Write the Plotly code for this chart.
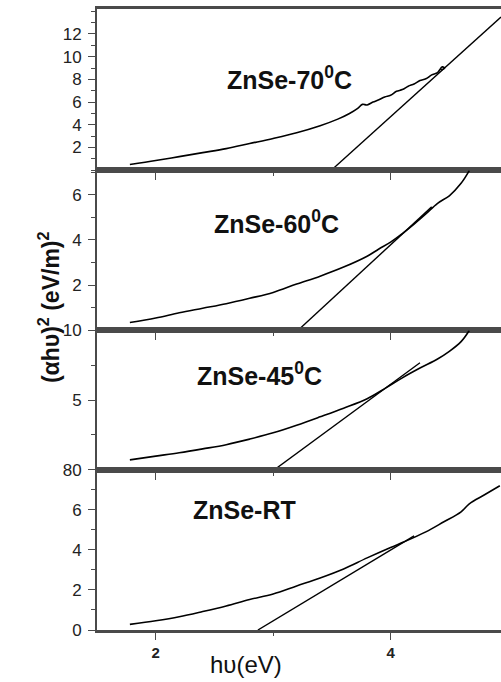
import plotly.graph_objects as go
from plotly.subplots import make_subplots

# ---- data ----
x70 = [1.78, 2.0, 2.2, 2.4, 2.6, 2.8, 3.0, 3.2, 3.4, 3.55, 3.65, 3.72, 3.76, 3.8, 3.85, 3.9, 3.95, 4.0, 4.05, 4.1, 4.15, 4.2, 4.25, 4.3, 4.35, 4.4, 4.44, 4.46, 4.43]
y70 = [0.5, 0.85, 1.2, 1.55, 1.9, 2.35, 2.8, 3.3, 3.92, 4.5, 5.0, 5.45, 5.8, 5.75, 6.0, 6.2, 6.45, 6.6, 6.95, 7.1, 7.4, 7.6, 7.9, 8.05, 8.4, 8.6, 9.1, 9.0, 8.8]
tan70_x = [3.495, 4.94]
tan70_y = [0.0, 13.5]

x60 = [1.78, 2.0, 2.2, 2.4, 2.6, 2.8, 3.0, 3.2, 3.4, 3.6, 3.8, 3.9, 4.0, 4.1, 4.2, 4.3, 4.4, 4.5, 4.6, 4.67]
y60 = [0.35, 0.55, 0.78, 0.98, 1.18, 1.42, 1.68, 2.05, 2.4, 2.8, 3.28, 3.6, 3.9, 4.28, 4.7, 5.15, 5.62, 5.95, 6.5, 7.06]
tan60_x = [3.21, 4.35]
tan60_y = [0.0, 5.46]

x45 = [1.78, 2.0, 2.2, 2.4, 2.6, 2.8, 3.0, 3.2, 3.4, 3.6, 3.8, 3.96, 4.1, 4.25, 4.4, 4.5, 4.6, 4.67]
y45 = [0.71, 0.98, 1.22, 1.5, 1.8, 2.2, 2.65, 3.2, 3.8, 4.42, 5.1, 5.88, 6.6, 7.3, 7.95, 8.5, 9.2, 10.0]
tan45_x = [3.01, 4.25]
tan45_y = [0.0, 7.68]

xRT = [1.78, 2.0, 2.2, 2.4, 2.6, 2.8, 3.0, 3.2, 3.4, 3.6, 3.8, 4.0, 4.11, 4.3, 4.45, 4.6, 4.67, 4.8, 4.93]
yRT = [0.28, 0.46, 0.66, 0.92, 1.2, 1.52, 1.8, 2.2, 2.6, 3.05, 3.6, 4.12, 4.39, 4.9, 5.39, 5.9, 6.3, 6.75, 7.2]
tanRT_x = [2.87, 4.2]
tanRT_y = [0.0, 4.7]

labels = ["ZnSe-70<sup>0</sup>C", "ZnSe-60<sup>0</sup>C", "ZnSe-45<sup>0</sup>C", "ZnSe-RT"]
label_pos = [(3.14, 8.1), (3.03, 4.8), (2.885, 6.9), (2.76, 6.0)]

y_ranges = [[0, 14.2], [0, 7.08], [0, 10], [0, 8]]
y_tickvals = [[2, 4, 6, 8, 10, 12], [2, 4, 6], [0, 5, 10], [0, 2, 4, 6, 8]]
y_ticktext = [["2", "4", "6", "8", "10", "12"], ["2", "4", "6"], ["0", "5", "10"],
              ["0", "2", "4", "6", "8\u2007"]]
y_minor = [1, 1, 2.5, 1]

x_range = [1.5, 4.94]
x_tickvals = [2, 4]
x_ticktext = ["<b>2</b>", "<b>4</b>"]

# ---- figure ----
fig = make_subplots(rows=4, cols=1, shared_xaxes=True, vertical_spacing=0,
                    row_heights=[162, 161, 140, 161])

series = [(x70, y70, tan70_x, tan70_y), (x60, y60, tan60_x, tan60_y),
          (x45, y45, tan45_x, tan45_y), (xRT, yRT, tanRT_x, tanRT_y)]

axis_col = "#4a4a4a"
for i, (xs, ys, tx, ty) in enumerate(series):
    r = i + 1
    fig.add_trace(go.Scatter(x=xs, y=ys, mode="lines", line=dict(color="black", width=1.6),
                             showlegend=False, line_shape="spline"), row=r, col=1)
    fig.add_trace(go.Scatter(x=tx, y=ty, mode="lines", line=dict(color="black", width=1.4),
                             showlegend=False), row=r, col=1)
    fig.update_yaxes(range=y_ranges[i], tickvals=y_tickvals[i], ticktext=y_ticktext[i],
                     ticks="outside", ticklen=7, tickwidth=1.3, tickcolor=axis_col,
                     ticklabelstandoff=3,
                     minor=dict(dtick=y_minor[i], ticks="outside", ticklen=4, tickcolor=axis_col, tickwidth=1.2,
                                tick0=0),
                     showline=True, linecolor=axis_col, linewidth=2, showgrid=False, zeroline=False,
                     tickfont=dict(family="Liberation Sans, Arial", size=17, color="#222"),
                     row=r, col=1)
    fig.update_xaxes(range=x_range, tickvals=x_tickvals, ticktext=x_ticktext,
                     ticks="outside", ticklen=7, tickwidth=1.3, tickcolor=axis_col,
                     minor=dict(dtick=1, tick0=0, ticks="outside", ticklen=3, tickcolor=axis_col, tickwidth=1.2),
                     showline=True, mirror=True, linecolor=axis_col, linewidth=2.5,
                     showgrid=False, zeroline=False,
                     showticklabels=(r == 4),
                     tickfont=dict(family="Liberation Sans, Arial", size=15, color="#222"),
                     row=r, col=1)
    ax = "x" if r == 1 else f"x{r}"
    ay = "y" if r == 1 else f"y{r}"
    fig.add_annotation(x=label_pos[i][0], y=label_pos[i][1], xref=ax, yref=ay,
                       text=f"<b>{labels[i]}</b>", showarrow=False,
                       font=dict(family="Liberation Sans, Arial", size=25, color="#111"))

fig.add_annotation(xref="paper", yref="paper", x=-0.161, y=0.52,
                   text="<b>(αhυ)<sup>2</sup> (eV/m)<sup>2</sup></b>", textangle=-90,
                   showarrow=False, font=dict(family="Liberation Sans, Arial", size=23, color="#111"))
fig.add_annotation(xref="paper", yref="paper", x=0.37, y=-0.056, yanchor="middle",
                   text="hυ(eV)", showarrow=False,
                   font=dict(family="Liberation Sans, Arial", size=24, color="#111"))

fig.update_layout(width=501, height=682, margin=dict(l=97, r=0, t=6, b=52),
                  plot_bgcolor="white", paper_bgcolor="white", showlegend=False)

fig.write_html("out.html")
